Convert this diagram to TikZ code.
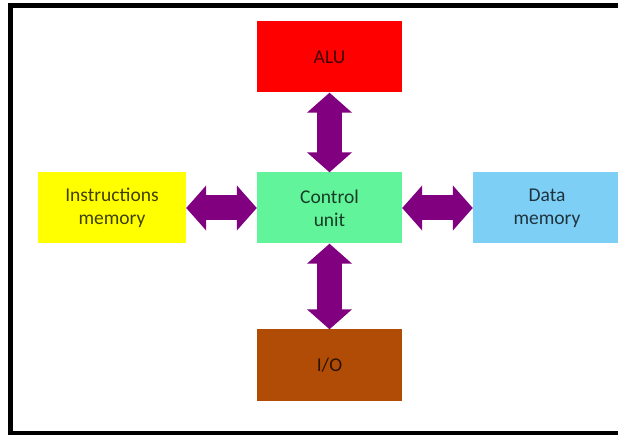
\documentclass[tikz,border=0pt]{standalone}
\usepackage{fontspec}
\setmainfont{Carlito}
\usetikzlibrary{arrows.meta}
\definecolor{alured}{RGB}{255,0,0}
\definecolor{ctrlgreen}{RGB}{98,244,154}
\definecolor{instyellow}{RGB}{255,255,0}
\definecolor{datablue}{RGB}{125,207,245}
\definecolor{iobrown}{RGB}{176,76,6}
\definecolor{arrowpurple}{RGB}{128,0,128}
\tikzset{
  unitbox/.style={draw=none, minimum width=145pt, minimum height=71pt, inner sep=0pt,
    align=center, font=\fontsize{19.5}{23}\selectfont, text=black, text opacity=0.75},
  biarrow/.style={draw=arrowpurple, line width=25pt,
    {Triangle[width=44pt,length=20pt]}-{Triangle[width=44pt,length=20pt]}, shorten <=0pt, shorten >=0pt}
}
\begin{document}
\begin{tikzpicture}[x=1pt,y=-1pt]
\useasboundingbox (0,0) rectangle (618,435);
\clip (0,0) rectangle (618,435);
\fill[white] (0,0) rectangle (618,435);
\draw[line width=5pt] (10,6) rectangle (640,433);
\node[unitbox, fill=alured] (alu) at (329.5,57) {ALU};
\node[unitbox, fill=ctrlgreen] (cu) at (329.5,208) {Control\\unit};
\node[unitbox, fill=instyellow, minimum width=148pt] (im) at (112,208) {Instructions\\memory};
\node[unitbox, fill=datablue, minimum width=148pt] (dm) at (547,208) {Data\\memory};
\node[unitbox, fill=iobrown] (io) at (329.5,365) {I/O};
\draw[biarrow] (alu.south) -- (cu.north);
\draw[biarrow] (cu.south) -- (io.north);
\draw[biarrow] (im.east) -- (cu.west);
\draw[biarrow] (cu.east) -- (dm.west);
\end{tikzpicture}
\end{document}
